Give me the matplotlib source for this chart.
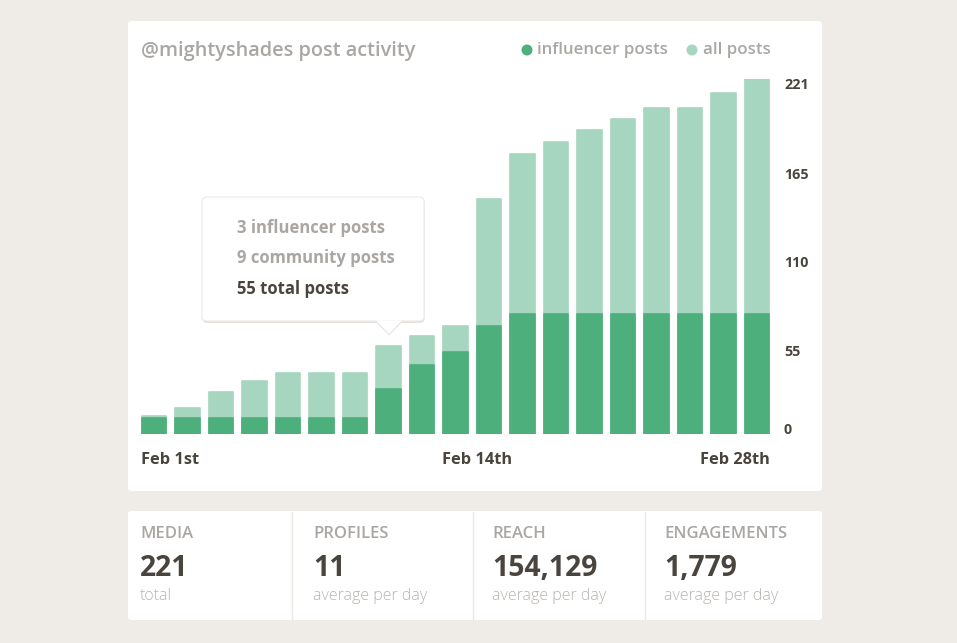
import matplotlib
matplotlib.use("Agg")
import matplotlib.pyplot as plt
from matplotlib.patches import FancyBboxPatch, Polygon, Ellipse
import matplotlib.transforms as mtransforms

# ---------------- data ----------------
days = list(range(1, 20))
all_posts = [11, 16, 26, 33, 38, 38, 38, 55, 61, 67, 146, 174, 182, 189, 196, 203, 203, 212, 221]
influencer_posts = [10, 10, 10, 10, 10, 10, 10, 28, 43, 51, 67, 75, 75, 75, 75, 75, 75, 75, 75]
x_labels = {0: "Feb 1st", 9: "Feb 14th", 18: "Feb 28th"}
y_ticks = [0, 55, 110, 165, 221]
tooltip_lines = ["3 influencer posts", "9 community posts", "55 total posts"]
stat_titles = ["MEDIA", "PROFILES", "REACH", "ENGAGEMENTS"]
stat_values = ["221", "11", "154,129", "1,779"]
stat_subs = ["total", "average per day", "average per day", "average per day"]

# ---------------- style ----------------
W, H = 957, 643
BG = "#efebe7"
DARK = "#4caf7c"
LIGHT = "#a6d6bf"
TXT = "#4a443f"
GREY = "#a9a6a3"
SUB = "#b8b3ae"
FONT = "Open Sans"
SEMI = 600

fig = plt.figure(figsize=(W / 100, H / 100), dpi=100)
fig.patch.set_facecolor(BG)


def fx(x):
    return x / W


def fy(y):
    return 1 - y / H


# cards
for (x0, y0, x1, y1) in [(128, 21, 822, 491), (128, 511, 822, 620)]:
    fig.patches.append(FancyBboxPatch((fx(x0), fy(y1)), fx(x1 - x0), (y1 - y0) / H,
                                      boxstyle="round,pad=0,rounding_size=0.004",
                                      transform=fig.transFigure, facecolor="white",
                                      edgecolor="none", zorder=0.1))
# dividers in bottom card
for xd in [292, 473, 645]:
    fig.lines.append(plt.Line2D([fx(xd), fx(xd)], [fy(512), fy(619)], transform=fig.transFigure,
                                color="#ece8e4", lw=1.0, zorder=0.2))

# chart axes: bar area pixel x 141..770, y 79..434
left, right, top, bottom = 141, 770, 79, 434
ax = fig.add_axes([fx(left), fy(bottom), fx(right - left), (bottom - top) / H])
ax.set_zorder(1)
ax.set_facecolor("none")
n = len(days)
xs = list(range(n))
ax.bar(xs, all_posts, width=0.74, color=LIGHT, edgecolor=LIGHT, linewidth=1.2,
       joinstyle="round", zorder=2)
ax.bar(xs, influencer_posts, width=0.74, color=DARK, edgecolor=DARK, linewidth=1.2,
       joinstyle="round", zorder=3)
ax.set_xlim(-0.39, n - 1 + 0.39)
ax.set_ylim(0, 221)
ax.axis("off")

# y tick labels on right
for v in y_ticks:
    dy = 4 if v == 0 else -6
    off = mtransforms.ScaledTranslation(0, dy / 100, fig.dpi_scale_trans)
    tr = mtransforms.blended_transform_factory(ax.transAxes, ax.transData) + off
    ax.text(1.0 + 14 / (right - left), v, str(v), transform=tr, ha="left", va="center",
            fontsize=10.3, fontweight="bold", color=TXT, family=FONT)

# x labels
for i, lab in x_labels.items():
    if i == n - 1:
        xpos, ha = i + 0.39, "right"
    else:
        xpos, ha = i - 0.39, "left"
    tr = mtransforms.blended_transform_factory(ax.transData, fig.transFigure)
    ax.text(xpos, fy(460), lab, transform=tr, ha=ha, va="center", fontsize=11.8,
            fontweight="bold", color=TXT, family=FONT)

# title & legend
fig.text(fx(141), fy(51), "@mightyshades post activity", ha="left", va="center",
         fontsize=14.3, fontweight=SEMI, color=GREY, family=FONT)
for cxp, col in [(527, DARK), (692, LIGHT)]:
    fig.patches.append(Ellipse((fx(cxp), fy(50)), 11 / W, 11 / H, transform=fig.transFigure,
                               facecolor=col, edgecolor="none", zorder=2))
fig.text(fx(537), fy(50), "influencer posts", ha="left", va="center", fontsize=12.2,
         fontweight=SEMI, color=GREY, family=FONT)
fig.text(fx(703), fy(50), "all posts", ha="left", va="center", fontsize=12.2,
         fontweight=SEMI, color=GREY, family=FONT)

# tooltip
shadow = FancyBboxPatch((fx(202.5), fy(323)), fx(222), 125 / H,
                        boxstyle="round,pad=0,rounding_size=0.006",
                        transform=fig.transFigure, facecolor="#e4e1de",
                        edgecolor="none", zorder=4)
ptr_shadow = Polygon([(fx(375), fy(321)), (fx(403), fy(321)), (fx(389), fy(335.5))],
                     closed=True, transform=fig.transFigure, facecolor="#e4e1de",
                     edgecolor="none", zorder=4)
box = FancyBboxPatch((fx(202), fy(321)), fx(222), 124 / H,
                     boxstyle="round,pad=0,rounding_size=0.006",
                     transform=fig.transFigure, facecolor="white",
                     edgecolor="#eeebe8", lw=0.8, zorder=5)
ptr = Polygon([(fx(376), fy(320.5)), (fx(402), fy(320.5)), (fx(389), fy(334))],
              closed=True, transform=fig.transFigure, facecolor="white",
              edgecolor="none", zorder=6)
fig.patches.extend([shadow, ptr_shadow, box, ptr])
for k, (line, yy) in enumerate(zip(tooltip_lines, [228, 258, 289])):
    fig.text(fx(237), fy(yy), line, ha="left", va="center", fontsize=12,
             fontweight="bold", color=(TXT if k == 2 else GREY), family=FONT, zorder=7)

# stats
for cx, t, v, s in zip([140, 313, 492, 664], stat_titles, stat_values, stat_subs):
    fig.text(fx(cx), fy(534), t, ha="left", va="center", fontsize=12, fontweight=SEMI,
             color=GREY, family=FONT)
    fig.text(fx(cx), fy(568), v, ha="left", va="center", fontsize=20.3, fontweight="bold",
             color=TXT, family=FONT)
    fig.text(fx(cx), fy(596), s, ha="left", va="center", fontsize=11.5, fontweight="light",
             color=SUB, family=FONT)

fig.savefig("out.png", dpi=100, facecolor=BG)
